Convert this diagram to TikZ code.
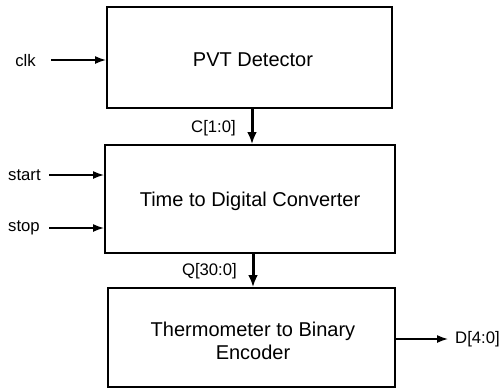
\documentclass[tikz,border=0pt]{standalone}
\usepackage{fontspec}
\setmainfont{Liberation Sans}
\usetikzlibrary{arrows.meta}
\begin{document}
\begin{tikzpicture}[x=1pt,y=-1pt,
  blockbox/.style={draw, line width=2pt, inner sep=0pt},
  blocktext/.style={inner sep=0pt, align=center, font=\fontsize{20}{23}\selectfont},
  sig/.style={font=\fontsize{16.7}{19}\selectfont, inner sep=0pt},
  wire/.style={line width=1.5pt, -{Latex[length=11pt,width=8pt]}},
  bus/.style={line width=3pt, -{Latex[length=12pt,width=10pt]}}]
\useasboundingbox (0,0) rectangle (503,389);
\node[blockbox, minimum width=285pt, minimum height=101pt] (pvt) at (249.5,57.5) {};
\node[blocktext] (pvtt) at (253,60) {PVT Detector};
\node[blockbox, minimum width=290pt, minimum height=108pt] (tdc) at (250,199) {};
\node[blocktext] (tdct) at (250,201) {Time to Digital Converter};
\node[blockbox, minimum width=287pt, minimum height=99pt] (enc) at (251.5,337.5) {};
\node[blocktext] (enct) at (253,341) {Thermometer to Binary\\Encoder};
\node[sig, anchor=east] (clk) at (36,61) {clk};
\node[sig, anchor=west] (start) at (8,175) {start};
\node[sig, anchor=west] (stop) at (8,228) {stop};
\node[sig, anchor=east] (clab) at (236,128) {C[1:0]};
\node[sig, anchor=east] (qlab) at (237,271) {Q[30:0]};
\node[sig, anchor=west] (dlab) at (455,339) {D[4:0]};
\coordinate (clkin) at (51,60);
\coordinate (startin) at (49,175);
\coordinate (stopin) at (49,228);
\coordinate (dout) at (448,339);
\draw[wire] (clkin) -- (clkin -| pvt.west);
\draw[wire] (startin) -- (startin -| tdc.west);
\draw[wire] (stopin) -- (stopin -| tdc.west);
\draw[wire] (dout -| enc.east) -- (dout);
\draw[bus] (252,108) coordinate (c1) -- (c1 |- tdc.north);
\draw[bus] (253,253) coordinate (q1) -- (q1 |- enc.north);
\end{tikzpicture}
\end{document}
